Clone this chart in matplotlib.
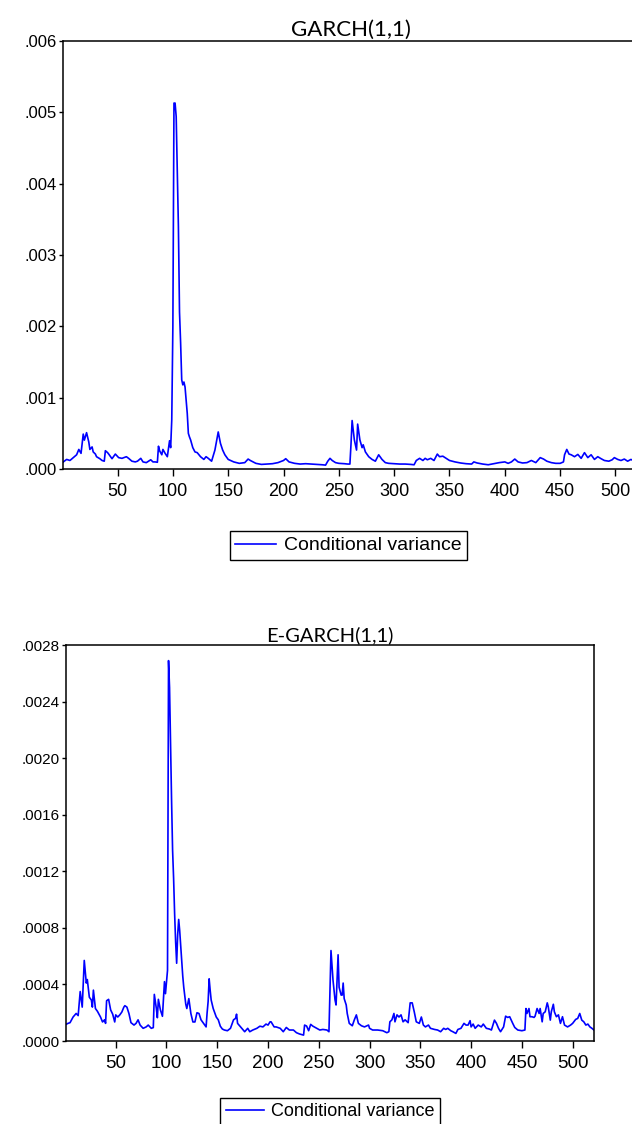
import numpy as np
import matplotlib
matplotlib.use("Agg")
import matplotlib.pyplot as plt
from matplotlib.ticker import FuncFormatter, MultipleLocator

# ---------------------------------------------------------------
# Données (variance conditionnelle, x 1e-4)
# ---------------------------------------------------------------
garch_obs = [1, 4, 7, 10, 13, 15, 17, 19, 20, 22, 24, 25, 27, 28, 30, 31, 34, 36, 38, 39,
             41, 42, 45, 48, 51, 54, 58, 60, 63, 66, 68, 71, 73, 76, 80, 82, 84, 86, 87, 88,
             90, 91, 93, 95, 97, 98, 99, 100, 101, 102, 103, 104, 105, 106, 107, 108, 109, 110,
             111, 112, 113, 114, 115, 116, 118, 120, 122, 125, 128, 130, 132, 135, 138, 141,
             143, 145, 147, 150, 155, 160, 165, 168, 170, 175, 180, 185, 190, 195, 200, 202,
             205, 210, 215, 220, 225, 230, 235, 238, 240, 242, 244, 247, 250, 255, 258, 260,
             261, 262, 264, 266, 267, 269, 271, 272, 274, 277, 280, 283, 286, 289, 292, 295,
             300, 305, 310, 315, 318, 320, 323, 326, 328, 330, 333, 336, 339, 341, 344, 347,
             350, 355, 360, 365, 370, 372, 375, 380, 385, 390, 395, 400, 403, 406, 409, 412,
             416, 420, 424, 428, 432, 435, 438, 442, 446, 450, 453, 454, 456, 458, 460, 463,
             466, 469, 472, 475, 478, 481, 484, 487, 490, 494, 497, 499, 502, 505, 508, 511,
             514, 517, 521]
garch_var = [1.0, 1.35, 1.2, 1.6, 2.0, 2.75, 2.2, 4.9, 4.05, 5.1, 3.8, 2.75, 3.1, 2.4, 2.1, 1.73, 1.45, 1.2, 1.1, 2.57,
             2.3, 2.1, 1.45, 2.1, 1.6, 1.5, 1.73, 1.5, 1.1, 1.0, 1.1, 1.5, 1.0, 0.9, 1.3, 1.0, 1.0, 0.95, 3.2, 2.57,
             2.0, 2.75, 2.2, 1.73, 3.97, 3.0, 6.9, 20.0, 51.3, 51.3, 49.4, 42.0, 34.0, 22.0, 17.7, 12.5, 11.8, 12.2,
             11.5, 9.7, 7.8, 5.0, 4.5, 4.1, 3.0, 2.4, 2.3, 1.73, 1.35, 1.73, 1.5, 1.1, 2.66, 5.2,
             3.6, 2.66, 2.0, 1.35, 1.0, 0.8, 0.9, 1.4, 1.2, 0.8, 0.65, 0.7, 0.75, 0.9, 1.2, 1.45,
             1.0, 0.8, 0.7, 0.75, 0.7, 0.65, 0.6, 0.55, 1.1, 1.5, 1.2, 0.9, 0.8, 0.75, 0.7, 0.7,
             3.5, 6.8, 4.1, 2.66, 6.3, 4.1, 3.0, 3.4, 2.4, 1.73, 1.35, 1.1, 2.0, 1.35, 0.9, 0.8,
             0.75, 0.7, 0.7, 0.65, 0.6, 1.2, 1.5, 1.2, 1.5, 1.3, 1.5, 1.2, 2.1, 1.73, 1.8, 1.5,
             1.2, 1.0, 0.85, 0.75, 0.7, 1.0, 0.85, 0.7, 0.6, 0.75, 0.9, 1.0, 0.8, 1.0, 1.4, 1.0,
             0.85, 0.9, 1.2, 0.9, 1.6, 1.4, 1.1, 0.9, 0.8, 0.8, 1.0, 2.0, 2.75, 2.1, 2.0, 1.73,
             2.05, 1.5, 2.3, 1.6, 2.0, 1.35, 1.73, 1.45, 1.2, 1.1, 1.3, 1.6, 1.35, 1.2, 1.4, 1.1,
             1.35, 1.1, 1.0]

egarch_obs = [1, 3, 5, 8, 11, 13, 15, 17, 19, 21, 22, 24, 26, 27, 28, 30, 32, 35, 37, 39,
              40, 41, 43, 45, 47, 49, 50, 52, 54, 56, 58, 59, 61, 63, 65, 68, 70, 72, 74, 77,
              80, 82, 85, 87, 88, 90, 91, 92, 94, 96, 98, 99, 101, 102, 103, 104, 105, 106, 107,
              108, 109, 110, 111, 112, 113, 114, 115, 116, 117, 118, 119, 120, 122, 124, 126,
              128, 130, 132, 134, 137, 139, 140, 141, 142, 143, 144, 146, 147, 149, 151, 153,
              155, 157, 160, 163, 166, 168, 169, 170, 173, 177, 180, 182, 185, 189, 192, 195,
              198, 200, 202, 203, 206, 208, 212, 215, 218, 221, 225, 228, 231, 235, 236, 238,
              240, 242, 244, 248, 251, 254, 258, 260, 261, 262, 264, 266, 267, 269, 270, 272,
              273, 274, 275, 277, 278, 280, 283, 285, 287, 289, 292, 295, 299, 300, 303, 308,
              313, 317, 319, 320, 322, 324, 325, 327, 329, 331, 333, 335, 338, 340, 342, 344,
              346, 349, 351, 353, 355, 358, 360, 364, 367, 370, 373, 375, 377, 380, 382, 385,
              387, 390, 393, 395, 397, 399, 400, 402, 404, 407, 410, 412, 415, 418, 420, 423,
              425, 427, 429, 432, 434, 436, 438, 441, 443, 446, 450, 453, 454, 455, 457, 458,
              460, 462, 463, 465, 467, 468, 470, 471, 473, 475, 476, 478, 479, 481, 482, 484,
              486, 488, 490, 492, 495, 498, 500, 503, 505, 507, 509, 511, 513, 515, 517, 519,
              521]
egarch_var = [1.18, 1.25, 1.3, 1.7, 1.95, 1.8, 3.5, 2.4, 5.7, 4.1, 4.35, 3.1, 2.9, 2.4, 3.6, 2.3, 2.1, 1.7, 1.35, 1.5,
              1.25, 2.85, 2.95, 2.2, 1.9, 1.35, 1.85, 1.7, 1.85, 2.05, 2.4, 2.5, 2.4, 1.95, 1.3, 1.13, 1.25, 1.5, 1.13, 0.9,
              1.0, 1.13, 0.9, 0.95, 3.3, 2.3, 1.65, 2.95, 2.2, 1.75, 4.2, 3.35, 5.0, 26.9, 25.0, 21.0, 17.0, 13.5, 11.5,
              9.0, 7.0, 5.5, 7.5, 8.6, 7.8, 6.7, 5.5, 4.6, 3.8, 3.2, 2.6, 2.3, 3.0, 1.95, 1.35,
              1.35, 2.0, 1.95, 1.5, 1.2, 1.0, 2.0, 2.8, 4.4, 3.6, 2.9, 2.3, 2.1, 1.7, 1.5, 1.05,
              0.85, 0.78, 0.73, 0.9, 1.5, 1.6, 1.9, 1.25, 1.0, 0.66, 0.9, 0.66, 0.78, 0.9, 1.05, 1.0,
              1.2, 1.13, 1.36, 1.36, 1.0, 1.0, 0.9, 0.66, 0.96, 0.78, 0.78, 0.59, 0.5, 0.42, 1.13, 1.06,
              0.73, 1.18, 1.06, 0.9, 0.78, 0.82, 0.78, 0.66, 3.6, 6.4, 4.3, 2.9, 2.55, 6.1, 3.8, 3.25,
              3.25, 4.1, 3.0, 2.55, 1.95, 1.25, 1.08, 1.5, 1.85, 1.25, 1.08, 1.0, 1.13, 0.9, 0.78, 0.78,
              0.73, 0.59, 0.66, 1.36, 1.5, 1.95, 1.36, 1.85, 1.7, 1.85, 1.36, 1.5, 1.3, 2.7, 2.7, 2.07,
              1.36, 1.25, 1.7, 1.13, 1.0, 1.13, 0.9, 0.82, 0.78, 0.66, 0.9, 0.82, 0.9, 0.73, 0.66, 0.54,
              0.82, 0.9, 1.25, 1.13, 1.13, 1.44, 1.0, 1.2, 0.9, 1.13, 1.0, 1.2, 0.9, 0.85, 0.78, 1.48,
              1.25, 0.9, 0.66, 1.0, 1.76, 1.67, 1.72, 1.25, 0.96, 0.78, 0.73, 0.78, 2.3, 1.95, 2.3, 1.72,
              1.72, 1.67, 1.76, 2.3, 1.95, 2.3, 1.36, 1.95, 2.07, 2.7, 2.42, 1.48, 2.07, 2.6, 2.07, 1.72,
              1.85, 1.25, 1.72, 1.13, 1.0, 1.13, 1.25, 1.53, 1.6, 1.95, 1.48, 1.36, 1.13, 1.2, 1.0, 0.9,
              0.78]

x_ticks = [50, 100, 150, 200, 250, 300, 350, 400, 450, 500]
titles = ["GARCH(1,1)", "E-GARCH(1,1)"]
legend_label = "Conditional variance"

# ---------------------------------------------------------------
# Figure
# ---------------------------------------------------------------
plt.rcParams['font.family'] = ['Liberation Sans', 'DejaVu Sans']
fig = plt.figure(figsize=(6.32, 11.24), dpi=100)

BLUE = '#0000FF'


def style_axes(ax, ymax, ystep, ndec, ysize, xsize):
    ax.set_xlim(1, 521)
    ax.set_ylim(0, ymax)
    ax.set_xticks(x_ticks)
    ax.yaxis.set_major_locator(MultipleLocator(ystep))
    ax.yaxis.set_major_formatter(FuncFormatter(lambda v, p: f"{v:.{ndec}f}"[1:]))
    ax.tick_params(axis='y', direction='out', length=3, width=1, labelsize=ysize,
                   pad=1.5, right=False)
    ax.tick_params(axis='x', direction='out', length=5, width=1, labelsize=xsize,
                   pad=5, top=False)
    for s in ax.spines.values():
        s.set_linewidth(1.1)
        s.set_color('black')


# --- GARCH(1,1) : panneau coupé à droite, comme l'original ---
ax1 = fig.add_axes([0.1002, 0.5827, 0.9104, 0.3808])
ax1.plot(garch_obs, np.array(garch_var) * 1e-4, color=BLUE, lw=1.2, label=legend_label)
style_axes(ax1, 0.006, 0.001, 3, 12, 13)
ax1.set_title(titles[0], fontfamily='Lato', fontsize=16, pad=4)
leg1 = fig.legend(*ax1.get_legend_handles_labels(), loc='upper center',
                  bbox_to_anchor=(0.5514, 0.5276), bbox_transform=fig.transFigure,
                  fontsize=14, fancybox=False, edgecolor='black', framealpha=1,
                  borderpad=0.3, handlelength=2.1, handletextpad=0.4, borderaxespad=0)
leg1.get_frame().set_linewidth(1.0)

# --- E-GARCH(1,1) ---
ax2 = fig.add_axes([0.1044, 0.0738, 0.8354, 0.3523])
ax2.plot(egarch_obs, np.array(egarch_var) * 1e-4, color=BLUE, lw=1.2, label=legend_label)
style_axes(ax2, 0.0028, 0.0004, 4, 11, 13.5)
ax2.set_title(titles[1], fontfamily='Lato', fontsize=14.5, pad=3)
leg2 = fig.legend(*ax2.get_legend_handles_labels(), loc='upper center',
                  bbox_to_anchor=(0.5222, 0.0231), bbox_transform=fig.transFigure,
                  fontsize=13, fancybox=False, edgecolor='black', framealpha=1,
                  borderpad=0.3, handlelength=2.1, handletextpad=0.4, borderaxespad=0)
leg2.get_frame().set_linewidth(1.0)

fig.savefig('out.png', dpi=100)
